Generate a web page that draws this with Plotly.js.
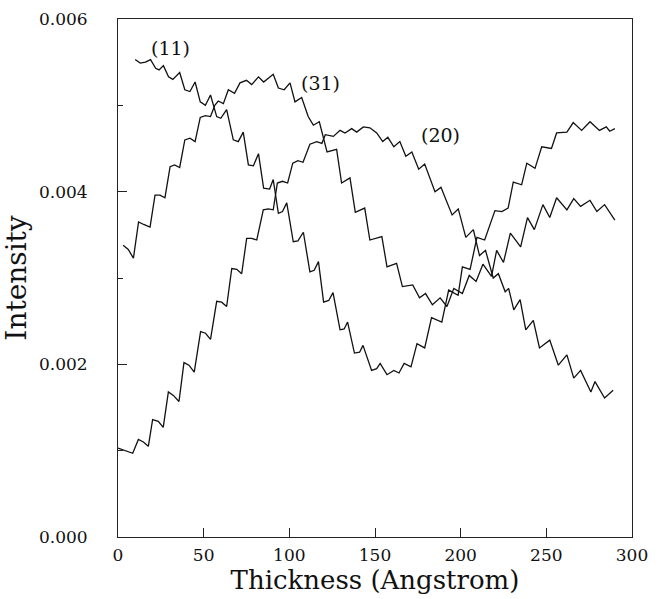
<!DOCTYPE html>
<html>
<head>
<meta charset="utf-8">
<script src="https://cdn.plot.ly/plotly-3.0.1.min.js"></script>
<style>
  html, body { margin: 0; padding: 0; background: #fff; }
  #chart { width: 661px; height: 599px; }
</style>
</head>
<body>
<div id="chart"></div>
<script>
// Curve (11)
var x11 = [10,13,16,19,22,24,26.5,29.5,32,36,39,42,45,48,51,54,57.6,60,63.4,67.3,70.2,73.1,76.1,79,82,85,88.5,90.6,93.6,96,98.5,102.3,105,108.2,112,114.5,117,120,123,125.5,129.6,132,134,138,141,143,148,151,153,157,161,164,167,171,174.5,179,183,189,193,198.5,201,205.5,209.5,214,220,224,227.7,230.7,235.6,238.6,243.4,247.3,253,256,262,265.7,270.6,275.5,281,285,287,290];
var y11 = [0.00553,0.00549,0.00550,0.00553,0.00543,0.00541,0.00546,0.00533,0.00530,0.00538,0.00518,0.00516,0.00527,0.00504,0.00500,0.00512,0.00487,0.00485,0.00495,0.00460,0.00458,0.00469,0.00431,0.00430,0.00444,0.00404,0.00403,0.00414,0.00375,0.00377,0.00387,0.00342,0.00343,0.00353,0.00307,0.00309,0.00319,0.00272,0.00274,0.00283,0.00240,0.00241,0.00249,0.00213,0.00214,0.00222,0.00193,0.00195,0.00201,0.00188,0.00193,0.00190,0.00201,0.00197,0.00224,0.00219,0.00254,0.00249,0.00286,0.00280,0.00313,0.00310,0.00347,0.00344,0.00378,0.00377,0.00381,0.00411,0.00408,0.00433,0.00427,0.00452,0.00450,0.00468,0.00469,0.00480,0.00471,0.00481,0.00471,0.00475,0.00470,0.00473];

// Curve (31)
var x31 = [3,6,9,12,15,18.7,21.6,24.5,27.4,30.4,33,36,39,42,45,48,51,54,56.5,58.5,61.5,64.4,68,71.2,75,78,82,85,90.6,93.6,97,100.4,103.3,107.2,111,114,117.5,122,127.6,130.5,135.4,138.5,144,147,154,157,162.6,166,172,176,179.5,183.5,188,192,196,201,205,209,213,218,221,225,229,235,239,243,248,252,256,262,266,270,275.5,279.5,284,290];
var y31 = [0.00338,0.00333,0.00323,0.00365,0.00362,0.00359,0.00396,0.00396,0.00393,0.00429,0.00431,0.00428,0.00460,0.00462,0.00458,0.00486,0.00488,0.00487,0.00500,0.00505,0.00502,0.00518,0.00514,0.00526,0.00529,0.00524,0.00533,0.00527,0.00536,0.00520,0.00518,0.00526,0.00504,0.00509,0.00487,0.00477,0.00481,0.00446,0.00449,0.00410,0.00416,0.00376,0.00381,0.00344,0.00348,0.00313,0.00317,0.00290,0.00292,0.00277,0.00282,0.00269,0.00277,0.00267,0.00288,0.00282,0.00303,0.00296,0.00316,0.00302,0.00332,0.00318,0.00352,0.00336,0.00370,0.00356,0.00385,0.00370,0.00393,0.00379,0.00392,0.00383,0.00390,0.00377,0.00385,0.00367];

// Curve (20)
var x20 = [0,4,8.6,11.9,14.8,17.7,20.2,23.5,26.4,29.4,32.3,35.6,38.5,41.4,44.5,48.2,51.1,54,57.6,60.5,63.4,66.4,69.3,72.2,75.1,78,81,84.8,87.7,90.6,93,96,99,102,105,108,112,116,119,121,125.7,129.6,132.5,136.4,139.3,143.2,147,151,154.5,157.5,161,164.5,168,171.5,175.5,179,185,188.5,195,198.6,203,207.4,211,214.5,219,222,226,228,231,234.7,238,242.4,246,252,257,262,266,270,276,278.4,284,289];
var y20 = [0.00103,0.00100,0.00097,0.00113,0.00110,0.00105,0.00136,0.00134,0.00127,0.00168,0.00164,0.00157,0.00202,0.00199,0.00191,0.00238,0.00236,0.00229,0.00273,0.00272,0.00267,0.00311,0.00310,0.00305,0.00346,0.00346,0.00344,0.00379,0.00380,0.00379,0.00410,0.00412,0.00410,0.00433,0.00436,0.00434,0.00455,0.00458,0.00456,0.00466,0.00464,0.00471,0.00468,0.00473,0.00469,0.00475,0.00474,0.00468,0.00458,0.00463,0.00452,0.00458,0.00441,0.00446,0.00426,0.00432,0.00400,0.00405,0.00373,0.00380,0.00347,0.00356,0.00326,0.00332,0.00300,0.00305,0.00284,0.00288,0.00263,0.00275,0.00240,0.00251,0.00219,0.00228,0.00199,0.00211,0.00184,0.00193,0.00168,0.00180,0.00161,0.00170];

var curveNames = ['(11)', '(31)', '(20)'];
var xTitle = 'Thickness (Angstrom)';
var yTitle = 'Intensity';

var lineStyle = {color: '#111', width: 1.3};
var traces = [
  {x: x11, y: y11, name: curveNames[0]},
  {x: x31, y: y31, name: curveNames[1]},
  {x: x20, y: y20, name: curveNames[2]}
].map(function (t) {
  return {x: t.x, y: t.y, name: t.name, type: 'scatter', mode: 'lines', line: lineStyle, hoverinfo: 'skip'};
});

var font = 'DejaVu Serif, serif';
var layout = {
  width: 661, height: 599,
  margin: {l: 118, r: 29, t: 19, b: 62},
  paper_bgcolor: '#fff', plot_bgcolor: '#fff',
  showlegend: false,
  font: {family: font, color: '#111', size: 17},
  xaxis: {
    range: [0, 300], dtick: 50, tick0: 0,
    showgrid: false, zeroline: false,
    showline: true, linecolor: '#222', linewidth: 1, mirror: true,
    ticks: 'inside', ticklen: 9, tickcolor: '#222',
    ticklabelstandoff: 3,
    tickfont: {family: font, size: 17, color: '#111'},
    title: {text: xTitle, font: {family: font, size: 26, color: '#111'}, standoff: 2}
  },
  yaxis: {
    range: [0, 0.006], dtick: 0.002, tick0: 0, tickformat: '.3f',
    showgrid: false, zeroline: false,
    showline: true, linecolor: '#222', linewidth: 1, mirror: true,
    ticks: 'inside', ticklen: 9, tickcolor: '#222',
    minor: {dtick: 0.001, ticks: 'inside', ticklen: 5, tickcolor: '#222', showgrid: false},
    ticklabelstandoff: 26,
    tickfont: {family: font, size: 17, color: '#111'},
    title: {text: yTitle, font: {family: font, size: 28, color: '#111'}, standoff: 4}
  },
  annotations: [
    {x: 30.4, y: 0.00566, text: curveNames[0]},
    {x: 118, y: 0.00526, text: curveNames[1]},
    {x: 188, y: 0.00466, text: curveNames[2]}
  ].map(function (a) {
    return {x: a.x, y: a.y, xref: 'x', yref: 'y', text: a.text, showarrow: false,
            font: {family: font, size: 19, color: '#111'}};
  })
};

Plotly.newPlot('chart', traces, layout, {staticPlot: true, displayModeBar: false});
</script>
</body>
</html>
